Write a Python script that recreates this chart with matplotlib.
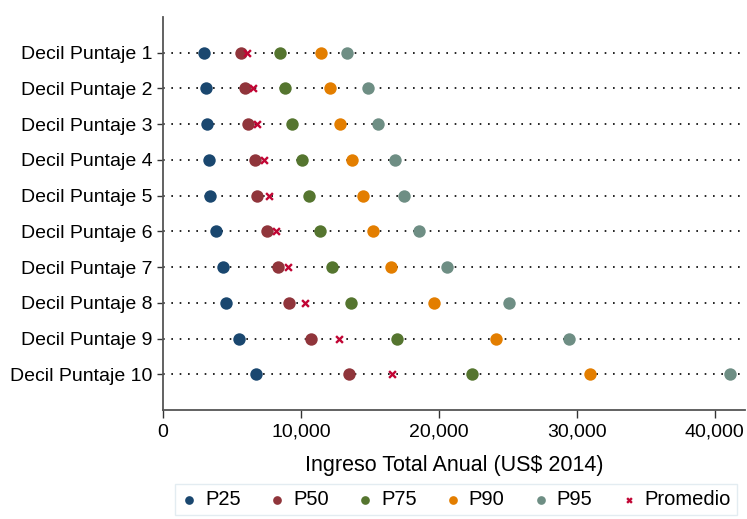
import matplotlib
matplotlib.use("Agg")
import matplotlib.pyplot as plt
from matplotlib.ticker import FuncFormatter

plt.rcParams["font.family"] = ["Liberation Sans", "DejaVu Sans"]

categories = [f"Decil Puntaje {i}" for i in range(1, 11)]

p25 = [2950, 3120, 3220, 3370, 3410, 3820, 4350, 4570, 5540, 6710]
p50 = [5660, 5910, 6170, 6650, 6850, 7530, 8320, 9120, 10740, 13480]
p75 = [8520, 8880, 9320, 10070, 10570, 11390, 12290, 13600, 17000, 22370]
p90 = [11440, 12100, 12820, 13670, 14470, 15220, 16530, 19620, 24180, 30990]
p95 = [13350, 14880, 15600, 16810, 17490, 18530, 20590, 25060, 29430, 41090]
promedio = [6100, 6560, 6820, 7330, 7670, 8200, 9070, 10300, 12730, 16620]

series = [
    ("P25", p25, "#1a476f"),
    ("P50", p50, "#90353b"),
    ("P75", p75, "#55752f"),
    ("P90", p90, "#e37e00"),
    ("P95", p95, "#6e8e84"),
]

fig = plt.figure(figsize=(7.47, 5.19), dpi=100)
ax = fig.add_axes([0.2182, 0.21, 0.7791, 0.7572])

rows = list(range(1, len(categories) + 1))

# dotted guide lines
for r in rows:
    ax.axhline(r, color="black", linestyle=(0, (1, 4)), linewidth=1.2, zorder=1)

for name, vals, col in series:
    ax.scatter(vals, rows, s=80, color=col, label=name, zorder=3, linewidths=0)
ax.scatter(promedio, rows, s=24, marker="x", color="#c10534", linewidths=1.7,
           label="Promedio", zorder=4)

ax.set_ylim(11, 0)
ax.set_xlim(0, 42200)
ax.set_yticks(rows)
ax.set_yticklabels(categories, fontsize=14)
ax.set_xticks([0, 10000, 20000, 30000, 40000])
ax.xaxis.set_major_formatter(FuncFormatter(lambda v, p: f"{int(v):,}"))
ax.tick_params(axis="x", labelsize=14, length=6, width=1, colors="#333333",
               labelcolor="black", pad=4)
ax.tick_params(axis="y", length=4, width=1, colors="#333333", labelcolor="black")
ax.set_xlabel("Ingreso Total Anual (US\\$ 2014)", fontsize=15.5, labelpad=10)

for side in ["top", "right"]:
    ax.spines[side].set_visible(False)
for side in ["left", "bottom"]:
    ax.spines[side].set_color("#555555")
    ax.spines[side].set_linewidth(1.3)

leg = fig.legend(loc="upper center", bbox_to_anchor=(0.6107, 0.0675), ncol=6,
                 fontsize=14.5, frameon=True, fancybox=False, edgecolor="#dde8ee",
                 handletextpad=0.4, columnspacing=1.39, borderpad=0.3,
                 borderaxespad=0, handlelength=0.8, markerscale=0.7)
leg.get_frame().set_linewidth(1.0)

fig.savefig("out.png", dpi=100)
